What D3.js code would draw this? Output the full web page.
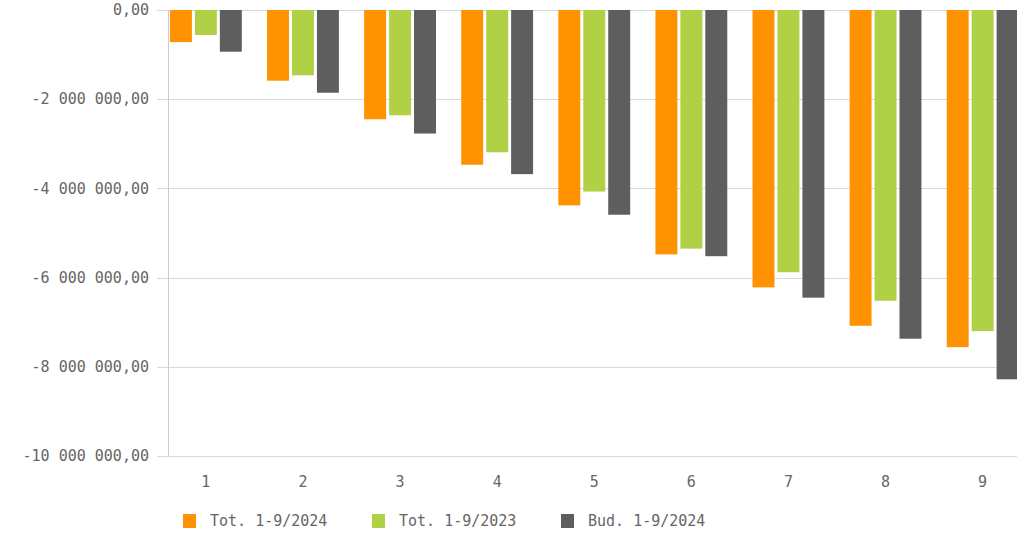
<!DOCTYPE html>
<html>
<head>
<meta charset="utf-8">
<script src="https://cdn.jsdelivr.net/npm/d3@7"></script>
<style>
  body { margin: 0; background: #fff; }
  svg text { font-family: "DejaVu Sans Mono", monospace; fill: #666666; font-size: 15px; }
</style>
</head>
<body>
<svg id="chart" width="1019" height="533"></svg>
<script>
// months 1..9, cumulative values (negative)
const months = ["1", "2", "3", "4", "5", "6", "7", "8", "9"];
const seriesNames = ["Tot. 1-9/2024", "Tot. 1-9/2023", "Bud. 1-9/2024"];
const tot2024 = [-720000, -1585000, -2450000, -3470000, -4380000, -5480000, -6220000, -7080000, -7560000];
const tot2023 = [-560000, -1465000, -2360000, -3190000, -4070000, -5350000, -5880000, -6520000, -7200000];
const bud2024 = [-935000, -1855000, -2770000, -3680000, -4590000, -5520000, -6450000, -7370000, -8280000];
const yTicks = [0, -2000000, -4000000, -6000000, -8000000, -10000000];
const colors = ["#ff9200", "#b0d045", "#5e5e5e"];

const allSeries = [tot2024, tot2023, bud2024];

const svg = d3.select("#chart");
const plotLeft = 168, plotRight = 1017, plotTop = 10, plotBottom = 456;

const locale = d3.formatLocale({ decimal: ",", thousands: " ", grouping: [3], currency: ["", ""], minus: "-" });
const fmt = locale.format(",.2f");

const y = d3.scaleLinear().domain([-10000000, 0]).range([plotBottom, plotTop]);
const x0 = d3.scaleBand().domain(months).range([plotLeft, 1020.5]).paddingInner(0.26).paddingOuter(0.02);
const x1 = d3.scaleBand().domain(d3.range(3)).range([0, x0.bandwidth()]).paddingInner(0.12);

// gridlines
svg.append("g")
  .selectAll("line")
  .data(yTicks)
  .join("line")
  .attr("x1", plotLeft - 11)
  .attr("x2", plotRight)
  .attr("y1", d => Math.round(y(d)) + 0.5)
  .attr("y2", d => Math.round(y(d)) + 0.5)
  .attr("stroke", "#d9d9d9")
  .attr("stroke-width", 1);

// y labels
svg.append("g")
  .selectAll("text")
  .data(yTicks)
  .join("text")
  .attr("x", plotLeft - 19)
  .attr("y", d => y(d))
  .attr("dy", "0.35em")
  .attr("text-anchor", "end")
  .text(d => fmt(d));

// bars
svg.append("defs").append("clipPath").attr("id", "clip")
  .append("rect").attr("x", plotLeft).attr("y", 0).attr("width", plotRight - plotLeft).attr("height", 533);

const groups = svg.append("g").attr("clip-path", "url(#clip)")
  .selectAll("g")
  .data(months)
  .join("g")
  .attr("transform", d => `translate(${x0(d)},0)`);

groups.selectAll("rect")
  .data((m, i) => allSeries.map((s, k) => ({ k, v: s[i] })))
  .join("rect")
  .attr("x", d => x1(d.k))
  .attr("width", x1.bandwidth())
  .attr("y", y(0))
  .attr("height", d => y(d.v) - y(0))
  .attr("fill", d => colors[d.k]);

// y axis line
svg.append("line")
  .attr("x1", plotLeft + 0.5).attr("x2", plotLeft + 0.5)
  .attr("y1", plotTop).attr("y2", plotBottom)
  .attr("stroke", "#cccccc");

// x labels
svg.append("g")
  .selectAll("text")
  .data(months)
  .join("text")
  .attr("x", d => x0(d) + x0.bandwidth() / 2)
  .attr("y", 482)
  .attr("dy", "0.35em")
  .attr("text-anchor", "middle")
  .text(d => d);

// legend
const legend = svg.append("g")
  .selectAll("g")
  .data(seriesNames)
  .join("g")
  .attr("transform", (d, i) => `translate(${183 + i * 189},514)`);

legend.append("rect")
  .attr("width", 13).attr("height", 14)
  .attr("fill", (d, i) => colors[i]);

legend.append("text")
  .attr("x", 27).attr("y", 7)
  .attr("dy", "0.35em")
  .text(d => d);
</script>
</body>
</html>
